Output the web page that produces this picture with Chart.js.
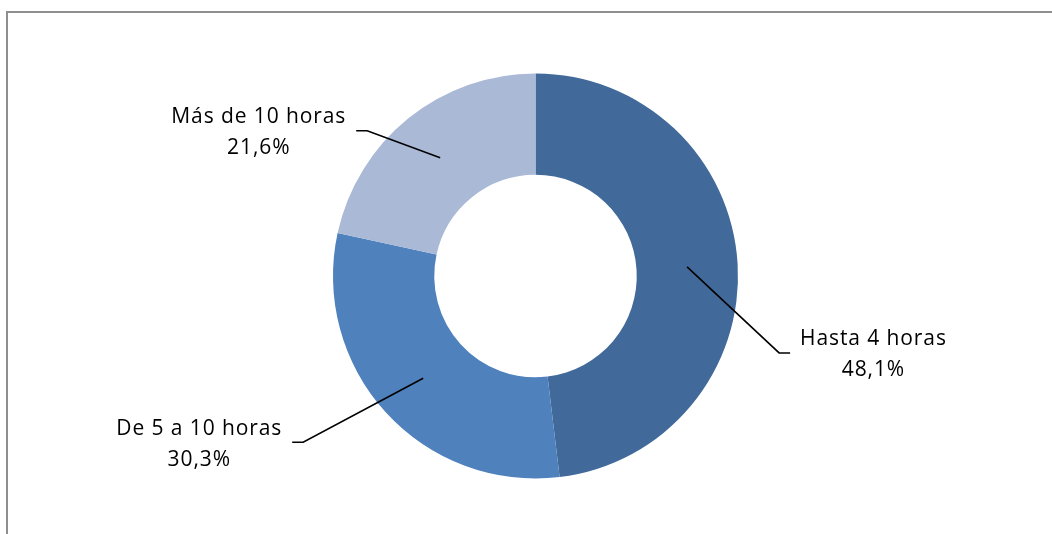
<!DOCTYPE html>
<html>
<head>
<meta charset="utf-8">
<script src="https://cdn.jsdelivr.net/npm/chart.js@4.4.0/dist/chart.umd.min.js"></script>
<style>
    body { margin: 0; background: #fff; overflow: hidden; }
    .wrap { position: relative; width: 1052px; height: 534px; }
    .frame {
        position: absolute; left: 6px; top: 11px;
        width: 1200px; height: 700px;
        border: 2px solid #8f8f8f;
    }
    #timeChart { position: absolute; left: 0; top: 0; }
</style>
</head>
<body>
<div class="wrap">
    <div class="frame"></div>
    <canvas id="timeChart" width="1052" height="534"></canvas>
</div>
<script>
// Chart data
const categories = ['Hasta 4 horas', 'De 5 a 10 horas', 'Más de 10 horas'];
const percentages = [48.1, 30.3, 21.6];
const sliceColors = ['#416a9b', '#4f81bd', '#aab9d6'];

// Where each leader line bends, relative to the middle of its slice
const elbowOffsets = [[92, 86], [-120, 64], [-73, -27]];

// Draws the two-line labels with leader lines
const leaderLabels = {
    id: 'leaderLabels',
    afterDatasetsDraw(chart, args, opts) {
        const ctx = chart.ctx;
        const arcs = chart.getDatasetMeta(0).data;
        ctx.save();
        ctx.font = opts.font;
        ctx.letterSpacing = opts.letterSpacing;
        ctx.fillStyle = '#000';
        ctx.strokeStyle = '#000';
        ctx.lineWidth = 1.6;
        ctx.textAlign = 'center';
        ctx.textBaseline = 'middle';

        arcs.forEach(function(arc, i) {
            const p = arc.getProps(['x', 'y', 'startAngle', 'endAngle', 'innerRadius', 'outerRadius'], true);
            const mid = (p.startAngle + p.endAngle) / 2;
            const r = (p.innerRadius + p.outerRadius) / 2;
            const ax = p.x + Math.cos(mid) * r;
            const ay = p.y + Math.sin(mid) * r;
            const ex = ax + elbowOffsets[i][0];
            const ey = ay + elbowOffsets[i][1];
            const dir = elbowOffsets[i][0] > 0 ? 1 : -1;
            const hx = ex + dir * opts.tail;

            ctx.beginPath();
            ctx.moveTo(ax, ay);
            ctx.lineTo(ex, ey);
            ctx.lineTo(hx, ey);
            ctx.stroke();

            const line1 = chart.data.labels[i];
            const line2 = percentages[i].toFixed(1).replace('.', ',') + '%';
            const w = Math.max(ctx.measureText(line1).width, ctx.measureText(line2).width);
            const cx = hx + dir * (opts.gap + w / 2);
            const cy = ey + 2;
            ctx.fillText(line1, cx, cy - opts.lineHeight / 2);
            ctx.fillText(line2, cx, cy + opts.lineHeight / 2);
        });
        ctx.restore();
    }
};

document.addEventListener('DOMContentLoaded', function() {
    const ctx = document.getElementById('timeChart');

    new Chart(ctx, {
        type: 'doughnut',
        data: {
            labels: categories,
            datasets: [{
                data: percentages,
                backgroundColor: sliceColors,
                borderWidth: 0,
                hoverOffset: 0
            }]
        },
        options: {
            responsive: false,
            devicePixelRatio: 1,
            animation: false,
            events: [],
            cutout: '50%',
            layout: {
                padding: { left: 19, right: 0, top: 73.5, bottom: 55.5 }
            },
            plugins: {
                legend: { display: false },
                tooltip: { enabled: false },
                leaderLabels: {
                    font: '21px "Open Sans"',
                    letterSpacing: '0.9px',
                    lineHeight: 31,
                    tail: 11,
                    gap: 10
                }
            }
        },
        plugins: [leaderLabels]
    });
});
</script>
</body>
</html>
